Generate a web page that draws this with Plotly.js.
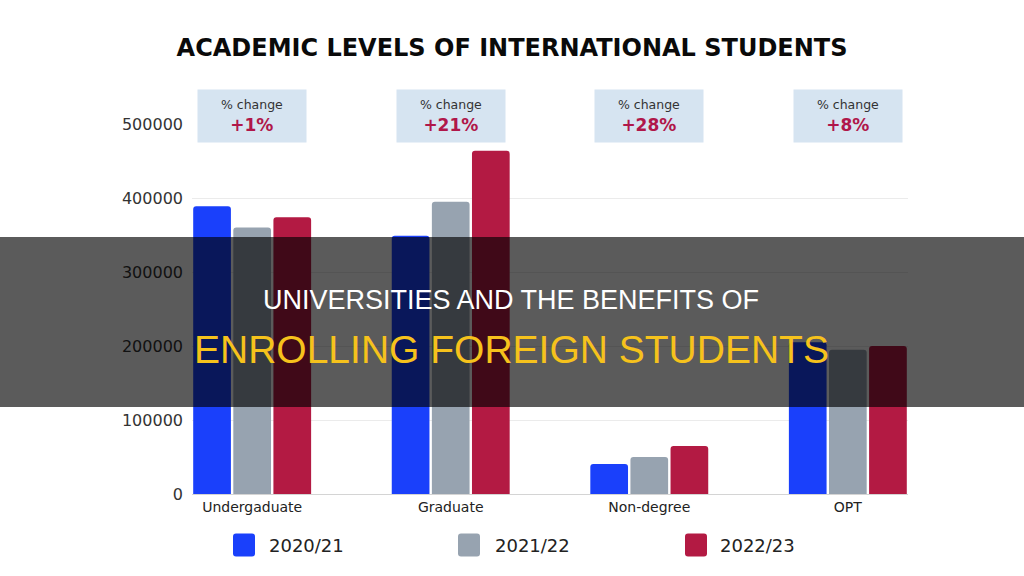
<!DOCTYPE html>
<html>
<head>
<meta charset="utf-8">
<script src="https://cdn.plot.ly/plotly-3.0.1.min.js"></script>
<style>html,body{margin:0;padding:0;background:#fff;}#chart{width:1024px;height:576px;}</style>
</head>
<body>
<div id="chart"></div>
<script>
const categories = ["Undergaduate", "Graduate", "Non-degree", "OPT"];
const seriesNames = ["2020/21", "2021/22", "2022/23"];
const values2020 = [389000, 349000, 40500, 205000];
const values2021 = [360000, 395000, 50000, 195000];
const values2022 = [374000, 464000, 65000, 200000];
const pctChange = ["+1%", "+21%", "+28%", "+8%"];
const yTicks = [0, 100000, 200000, 300000, 400000, 500000];
const seriesColors = ["#1a40fb", "#97a3b0", "#b31a43"];

const allValues = [values2020, values2021, values2022];
const traces = allValues.map((vals, i) => ({
  type: "bar",
  x: categories,
  y: vals,
  name: seriesNames[i],
  marker: { color: seriesColors[i] },
  showlegend: false,
  hoverinfo: "skip"
}));

// plot area: left 192, right 908, top 124, bottom 494
const L = 192, R = 908, T = 124, B = 494;
const px = v => (v - L) / (R - L);
const py = v => (B - v) / (B - T);

const annotations = [];
const shapes = [];

// % change boxes
pctChange.forEach((p, i) => {
  annotations.push({
    xref: "x", yref: "paper", x: i, y: py(116), xanchor: "center", yanchor: "middle",
    width: 106, height: 50, bgcolor: "#d6e4f1", showarrow: false,
    text: '<span style="font-size:12.5px;color:#333333">% change</span><br><b><span style="color:#b0174a">' + p + '</span></b>',
    font: { family: "DejaVu Sans", size: 17, color: "#b0174a" }
  });
});

// custom legend
const legendSquareX = [244, 469, 696];
const legendTextX = [267, 493, 718];
seriesNames.forEach((n, i) => {
  shapes.push({
    type: "path", xref: "paper", yref: "paper", xsizemode: "pixel", ysizemode: "pixel",
    xanchor: px(legendSquareX[i]), yanchor: py(545),
    path: "M-8,-11.5 L8,-11.5 Q11,-11.5 11,-8.5 L11,8.5 Q11,11.5 8,11.5 L-8,11.5 Q-11,11.5 -11,8.5 L-11,-8.5 Q-11,-11.5 -8,-11.5 Z",
    fillcolor: seriesColors[i], line: { width: 0 }, layer: "above"
  });
  annotations.push({
    xref: "paper", yref: "paper", x: px(legendTextX[i]), y: py(545), xanchor: "left", yanchor: "middle",
    showarrow: false, text: n, font: { family: "DejaVu Sans", size: 18, color: "#222222" }
  });
});

// dark overlay band
shapes.push({
  type: "rect", xref: "paper", yref: "paper",
  x0: px(-5), x1: px(1030), y0: py(407), y1: py(237),
  fillcolor: "rgba(0,0,0,0.645)", line: { width: 0 }, layer: "above"
});
annotations.push({
  xref: "paper", yref: "paper", x: px(511), y: py(300), xanchor: "center", yanchor: "middle",
  showarrow: false, text: "UNIVERSITIES AND THE BENEFITS OF",
  font: { family: "Liberation Sans", size: 27, color: "#ffffff" }
});
annotations.push({
  xref: "paper", yref: "paper", x: px(511), y: py(349), xanchor: "center", yanchor: "middle",
  showarrow: false, text: "ENROLLING FOREIGN STUDENTS",
  font: { family: "Liberation Sans", size: 39, color: "#f6c21c" }
});

const layout = {
  width: 1024, height: 576,
  paper_bgcolor: "#ffffff", plot_bgcolor: "#ffffff",
  margin: { l: L, r: 1024 - R, t: T, b: 576 - B, pad: 0 },
  title: {
    text: "ACADEMIC LEVELS OF INTERNATIONAL STUDENTS",
    font: { family: "DejaVu Sans", size: 24, color: "#0a0a0a", weight: "bold" },
    x: 0.5, xref: "container", y: 1 - 48 / 576, yref: "container", yanchor: "middle"
  },
  barmode: "group", bargap: 0.394, bargroupgap: 0.06, barcornerradius: 3,
  xaxis: {
    type: "category", range: [-0.303, 3.303],
    showgrid: false, zeroline: false, showline: true, linecolor: "#d4d4d4", linewidth: 1,
    ticks: "", tickfont: { family: "DejaVu Sans", size: 14, color: "#222222" },
    fixedrange: true
  },
  yaxis: {
    range: [0, 500000], tickvals: yTicks, ticktext: yTicks.map(String),
    showgrid: true, gridcolor: "#ebebeb", gridwidth: 1, zeroline: false,
    ticks: "", ticklabelstandoff: 8,
    tickfont: { family: "DejaVu Sans", size: 16, color: "#333333" },
    fixedrange: true
  },
  shapes: shapes,
  annotations: annotations,
  showlegend: false
};

Plotly.newPlot("chart", traces, layout, { displayModeBar: false, staticPlot: true });
</script>
</body>
</html>
